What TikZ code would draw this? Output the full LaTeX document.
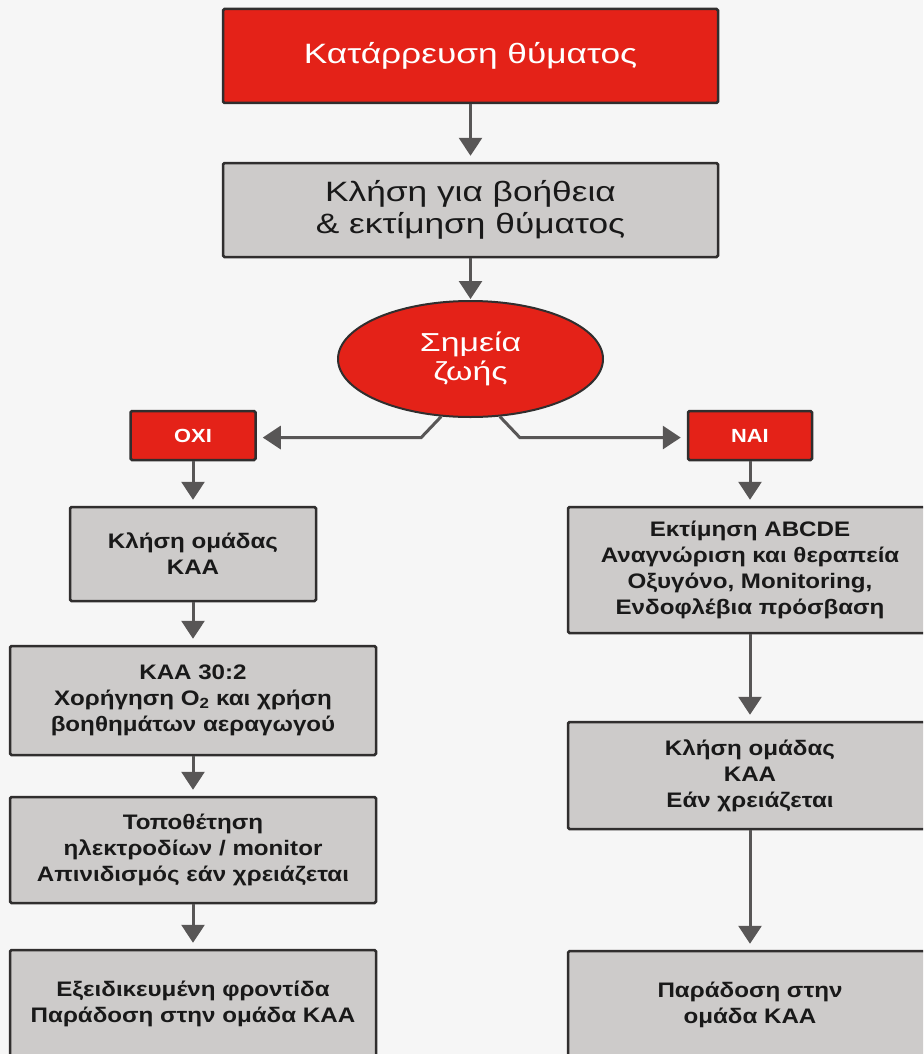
\documentclass[tikz,border=0pt]{standalone}
\usepackage{fontspec}
\setmainfont{Liberation Sans}
\newfontfamily\titlefont[FakeStretch=1.26]{Liberation Sans}
\newfontfamily\signfont[FakeStretch=1.3]{Liberation Sans}
\newfontfamily\stepfont[FakeStretch=1.15]{Liberation Sans Bold}
\usetikzlibrary{shapes.geometric,arrows.meta}

\definecolor{alarmred}{RGB}{228,34,24}
\definecolor{boxgray}{RGB}{205,203,202}
\definecolor{edgegray}{RGB}{48,46,46}
\definecolor{arrowgray}{RGB}{88,86,86}
\definecolor{paper}{RGB}{246,246,246}

\begin{document}
\begin{tikzpicture}[x=1pt,y=-1pt,
  box/.style={draw=edgegray, line width=2.5pt, rounded corners=1.5pt, inner sep=0pt, align=center},
  redbox/.style={box, fill=alarmred, text=white},
  graybox/.style={box, fill=boxgray, text=black!90},
  titletext/.style={font=\titlefont\fontsize{28}{32}\selectfont},
  steptext/.style={font=\stepfont\fontsize{21}{26}\selectfont},
  answertext/.style={font=\stepfont\fontsize{19}{22}\selectfont},
  arr/.style={draw=arrowgray, line width=3pt, -{Triangle[width=23pt,length=18pt]}, shorten >=6pt}]

\path[use as bounding box, fill=paper] (0,0) rectangle (923,1054);
\clip (0,0) rectangle (923,1054);

% collapse and first check
\node at (470.5,56) (collapse)[redbox, titletext, minimum width=495pt, minimum height=94pt] {Κατάρρευση θύματος};
\node at (470.5,210) (call)[graybox, titletext, minimum width=495pt, minimum height=94pt] {Κλήση για βοήθεια\\\& εκτίμηση θύματος};

% vital signs
\node at (470.5,359) (vital)[ellipse, draw=edgegray, line width=2pt, fill=alarmred, text=white, inner sep=0pt,
  minimum width=265pt, minimum height=116pt, align=center, font=\signfont\fontsize{26}{29}\selectfont] {Σημεία\\ζωής};

\node at (193,435.5) (no)[redbox, answertext, minimum width=125pt, minimum height=49pt] {ΟΧΙ};
\node at (750,435.5) (yes)[redbox, answertext, minimum width=124pt, minimum height=49pt] {ΝΑΙ};

% no branch
\node at (193,554) (teamno)[graybox, steptext, minimum width=246pt, minimum height=94pt] {Κλήση ομάδας\\ΚΑΑ};
\node at (193,700.5) (cpr)[graybox, steptext, minimum width=366pt, minimum height=109pt] {ΚΑΑ 30:2\\Χορήγηση O\textsubscript{2} και χρήση\\βοηθημάτων αεραγωγού};
\node at (193,850) (pads)[graybox, steptext, minimum width=366pt, minimum height=106pt] {Τοποθέτηση\\ηλεκτροδίων / monitor\\Απινιδισμός εάν χρειάζεται};
\node at (193,1004) (advanced)[graybox, steptext, minimum width=366pt, minimum height=108pt] {Εξειδικευμένη φροντίδα\\Παράδοση στην ομάδα ΚΑΑ};

% yes branch
\node at (750,570) (abcde)[graybox, steptext, minimum width=364pt, minimum height=126pt] {Εκτίμηση ABCDE\\Αναγνώριση και θεραπεία\\Οξυγόνο, Monitoring,\\Ενδοφλέβια πρόσβαση};
\node at (750,775.5) (teamyes)[graybox, steptext, minimum width=364pt, minimum height=107pt] {Κλήση ομάδας\\ΚΑΑ\\Εάν χρειάζεται};
\node at (750,1004.5) (handover)[graybox, steptext, minimum width=364pt, minimum height=107pt] {Παράδοση στην\\ομάδα ΚΑΑ};

% arrows
\draw[arr] (collapse) -- (call);
\draw[arr, shorten >=1pt] (call) -- (vital);
\draw[arr] (vital.243) -- ++(-20,21) coordinate (kneeno) -- (kneeno -| no.east);
\draw[arr] (vital.297) -- ++(20,21) coordinate (kneeyes) -- (kneeyes -| yes.west);
\draw[arr] (no) -- (teamno);
\draw[arr] (teamno) -- (cpr);
\draw[arr] (cpr) -- (pads);
\draw[arr] (pads) -- (advanced);
\draw[arr] (yes) -- (abcde);
\draw[arr] (abcde) -- (teamyes);
\draw[arr] (teamyes) -- (handover);

\end{tikzpicture}
\end{document}
